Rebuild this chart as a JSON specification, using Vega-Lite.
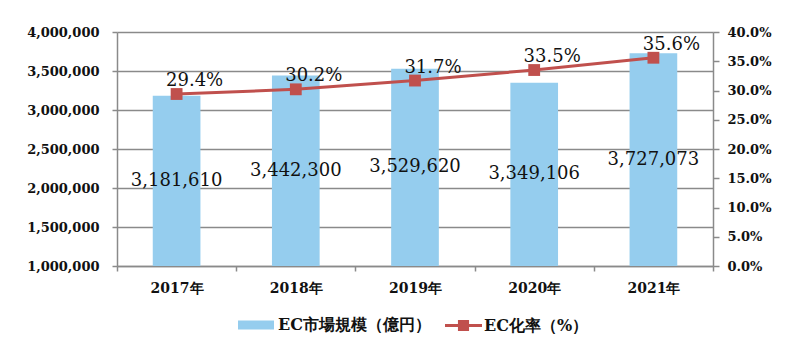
{
  "$schema": "https://vega.github.io/schema/vega-lite/v6.json",
  "width": 596,
  "height": 234,
  "autosize": {"type": "none"},
  "padding": {"left": 117, "top": 32, "right": 87, "bottom": 98},
  "background": "white",
  "config": {
    "view": {"stroke": null},
    "font": "DejaVu Serif",
    "axis": {"labelFont": "DejaVu Serif", "labelFontWeight": "bold", "labelColor": "#111111", "domainColor": "#8a8a8a", "tickColor": "#8a8a8a", "gridColor": "#8a8a8a", "domainWidth": 1.5, "tickWidth": 1.5}
  },
  "data": {
    "values": [
      {"year": "2017年", "market": 3181610, "rate": 0.294},
      {"year": "2018年", "market": 3442300, "rate": 0.302},
      {"year": "2019年", "market": 3529620, "rate": 0.317},
      {"year": "2020年", "market": 3349106, "rate": 0.335},
      {"year": "2021年", "market": 3727073, "rate": 0.356}
    ]
  },
  "encoding": {
    "x": {
      "field": "year", "type": "nominal", "sort": null,
      "scale": {"paddingInner": 0, "paddingOuter": 0},
      "axis": {"title": null, "labelAngle": 0, "labelFontSize": 14, "labelPadding": 10, "tickBand": "extent", "tickSize": 5, "grid": false}
    }
  },
  "layer": [
    {
      "mark": {"type": "bar", "width": {"band": 0.4}},
      "encoding": {
        "y": {
          "field": "market", "type": "quantitative",
          "scale": {"domain": [1000000, 4000000], "zero": false, "nice": false},
          "axis": {"orient": "left", "title": null, "labelExpr": "format(datum.value, ',')", "values": [1000000, 1500000, 2000000, 2500000, 3000000, 3500000, 4000000], "labelFontSize": 13, "labelPadding": 13, "tickSize": 5, "grid": true, "gridWidth": 1.5}
        },
        "y2": {"datum": 1000000},
        "fill": {
          "datum": "EC市場規模（億円）",
          "scale": {"range": ["#95cdee"]},
          "legend": {"title": null, "orient": "none", "legendX": 121, "legendY": 275, "padding": 0, "symbolType": "M-1,-0.25L1,-0.25L1,0.25L-1,0.25Z", "symbolSize": 1296, "symbolStrokeWidth": 0, "symbolOpacity": 1, "labelFont": "DejaVu Serif", "labelFontSize": 16, "labelFontWeight": "bold", "labelColor": "#111111", "labelOffset": 4}
        }
      }
    },
    {
      "encoding": {
        "y": {
          "field": "rate", "type": "quantitative",
          "scale": {"domain": [0, 0.4], "nice": false},
          "axis": {"orient": "right", "title": null, "format": ".1%", "values": [0, 0.05, 0.1, 0.15, 0.2, 0.25, 0.3, 0.35, 0.4], "labelFontSize": 13, "labelPadding": 8, "tickSize": 6, "grid": false}
        }
      },
      "layer": [
        {"mark": {"type": "line", "color": "#c0504d", "strokeWidth": 3}, "encoding": {}},
        {
          "mark": {"type": "point", "shape": "square", "filled": true, "size": 140, "opacity": 1},
          "encoding": {
            "color": {
              "datum": "EC化率（%）",
              "scale": {"range": ["#c0504d"]},
              "legend": {"title": null, "orient": "none", "legendX": 328, "legendY": 275, "padding": 0, "symbolType": "M-1,-0.08L1,-0.08L1,0.08L-1,0.08Z M-0.3,-0.3L0.3,-0.3L0.3,0.3L-0.3,0.3Z", "symbolSize": 1369, "symbolStrokeWidth": 0, "symbolOpacity": 1, "labelFont": "DejaVu Serif", "labelFontSize": 16, "labelFontWeight": "bold", "labelColor": "#111111", "labelOffset": 2}
            }
          }
        },
        {
          "mark": {"type": "text", "fontSize": 18, "font": "DejaVu Serif", "color": "#111111", "dx": 18, "dy": -13, "baseline": "middle"},
          "encoding": {"text": {"field": "rate", "format": ".1%"}}
        }
      ]
    },
    {
      "mark": {"type": "text", "fontSize": 18, "font": "DejaVu Serif", "color": "#111111", "baseline": "middle"},
      "encoding": {
        "y": {"field": "market", "type": "quantitative", "scale": {"domain": [1000000, 7000000], "zero": false, "nice": false}, "axis": null},
        "text": {"field": "market", "format": ","}
      }
    }
  ],
  "resolve": {"scale": {"y": "independent"}}
}
